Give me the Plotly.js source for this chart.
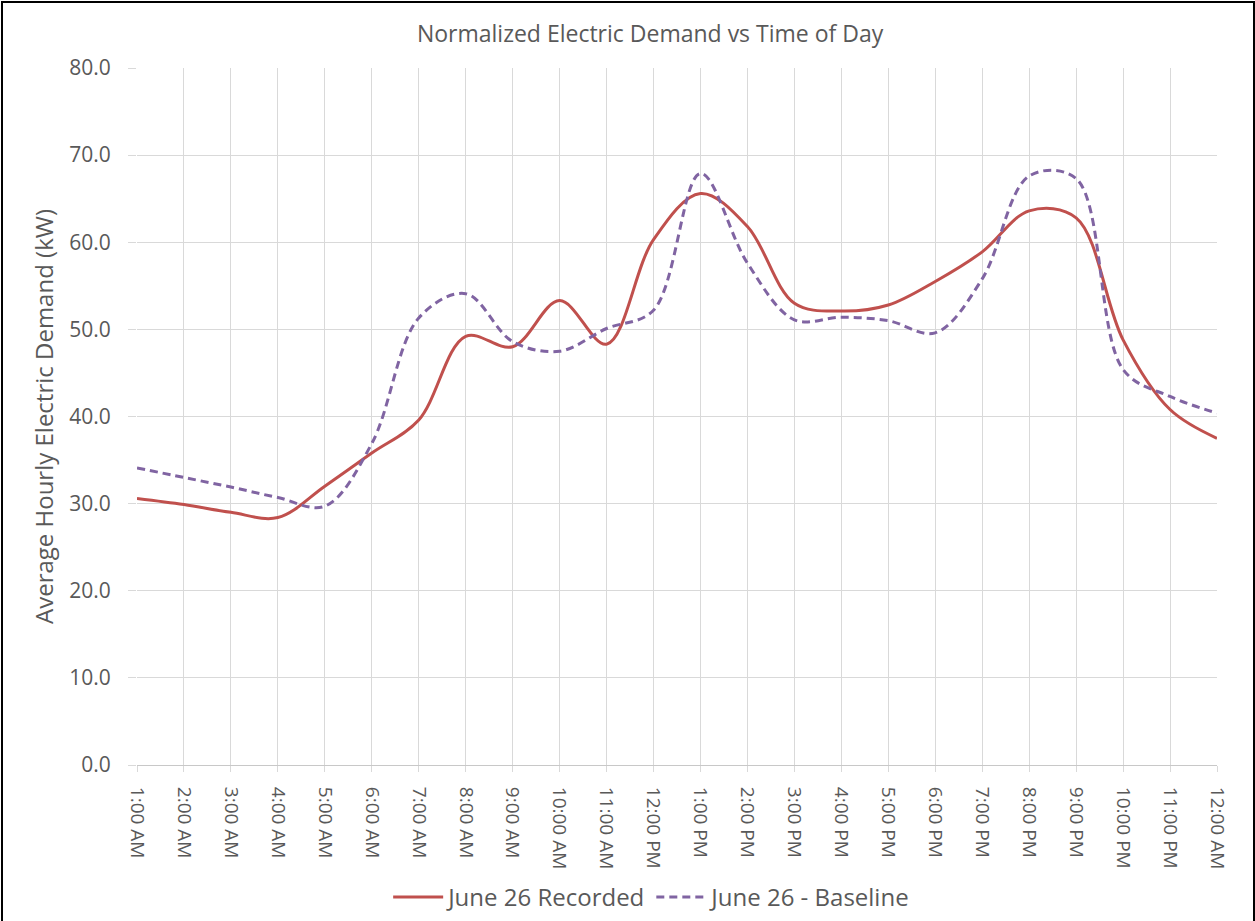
<!DOCTYPE html>
<html><head><meta charset="utf-8">
<script src="https://cdn.plot.ly/plotly-3.0.1.min.js"></script>
<style>
html,body{margin:0;padding:0;background:#fff;}
#frame{position:absolute;left:1px;top:1px;width:1250px;height:930px;border:2px solid #000;pointer-events:none;z-index:10;}
#chart{width:1255px;height:921px;}
</style></head>
<body>
<div id="chart"></div><div id="frame"></div>
<script>
const hours = ["1:00 AM","2:00 AM","3:00 AM","4:00 AM","5:00 AM","6:00 AM","7:00 AM","8:00 AM","9:00 AM","10:00 AM","11:00 AM","12:00 PM",
"1:00 PM","2:00 PM","3:00 PM","4:00 PM","5:00 PM","6:00 PM","7:00 PM","8:00 PM","9:00 PM","10:00 PM","11:00 PM","12:00 AM"];
const recorded = [30.6,29.9,29.0,28.4,32.0,35.8,39.6,49.2,48.0,53.3,48.3,60.3,65.6,61.8,53.0,52.1,52.8,55.5,58.9,63.6,62.8,48.8,40.8,37.5];
const baseline = [34.1,33.0,31.9,30.7,29.7,36.9,51.3,54.1,48.6,47.5,50.1,52.2,67.9,57.6,51.1,51.4,51.0,49.6,55.8,67.6,67.3,45.4,42.3,40.4];

const font = "'Open Sans', sans-serif";
const grey = "#595959";
const traces = [
  {x: hours, y: recorded, name: "June 26 Recorded", type: "scatter", mode: "lines",
   line: {color: "#c0504d", width: 3, shape: "spline", smoothing: 1}},
  {x: hours, y: baseline, name: "June 26 - Baseline", type: "scatter", mode: "lines",
   line: {color: "#8064a2", width: 3, dash: "8px,5px", shape: "spline", smoothing: 1}}
];
const layout = {
  width: 1255, height: 921,
  margin: {l: 137, r: 38, t: 68, b: 156, autoexpand: false},
  paper_bgcolor: "#fff", plot_bgcolor: "#fff",
  font: {family: font, color: grey},
  title: {text: "Normalized Electric Demand vs Time of Day", x: 0.518, xanchor: "center", y: 0.963, yanchor: "middle",
          font: {size: 23, color: grey, family: font}},
  xaxis: {type: "category", range: [0, 23], tickangle: 90, tickfont: {size: 19, color: grey},
          showgrid: true, gridcolor: "#d9d9d9", gridwidth: 1, zeroline: false,
          showline: true, linecolor: "#c8c8c8", linewidth: 1,
          ticks: "outside", ticklen: 6, tickcolor: "#d9d9d9", ticklabelstandoff: 11, automargin: false},
  yaxis: {range: [0, 80], dtick: 10, tickformat: ".1f", tickfont: {size: 21, color: grey},
          showgrid: true, gridcolor: "#d9d9d9", gridwidth: 1, zeroline: false, showline: false,
          ticks: "outside", ticklen: 8, tickcolor: "#d9d9d9", ticklabelstandoff: 13,
          title: {text: "Average Hourly Electric Demand (kW)", font: {size: 24, color: grey}, standoff: 8},
          automargin: false},
  showlegend: true,
  legend: {orientation: "h", x: 0.477, xanchor: "center", y: -0.19, yanchor: "middle",
           font: {size: 24, color: grey}, itemwidth: 50, traceorder: "normal"}
};
Plotly.newPlot("chart", traces, layout, {displayModeBar: false, staticPlot: true});
</script>
</body></html>
